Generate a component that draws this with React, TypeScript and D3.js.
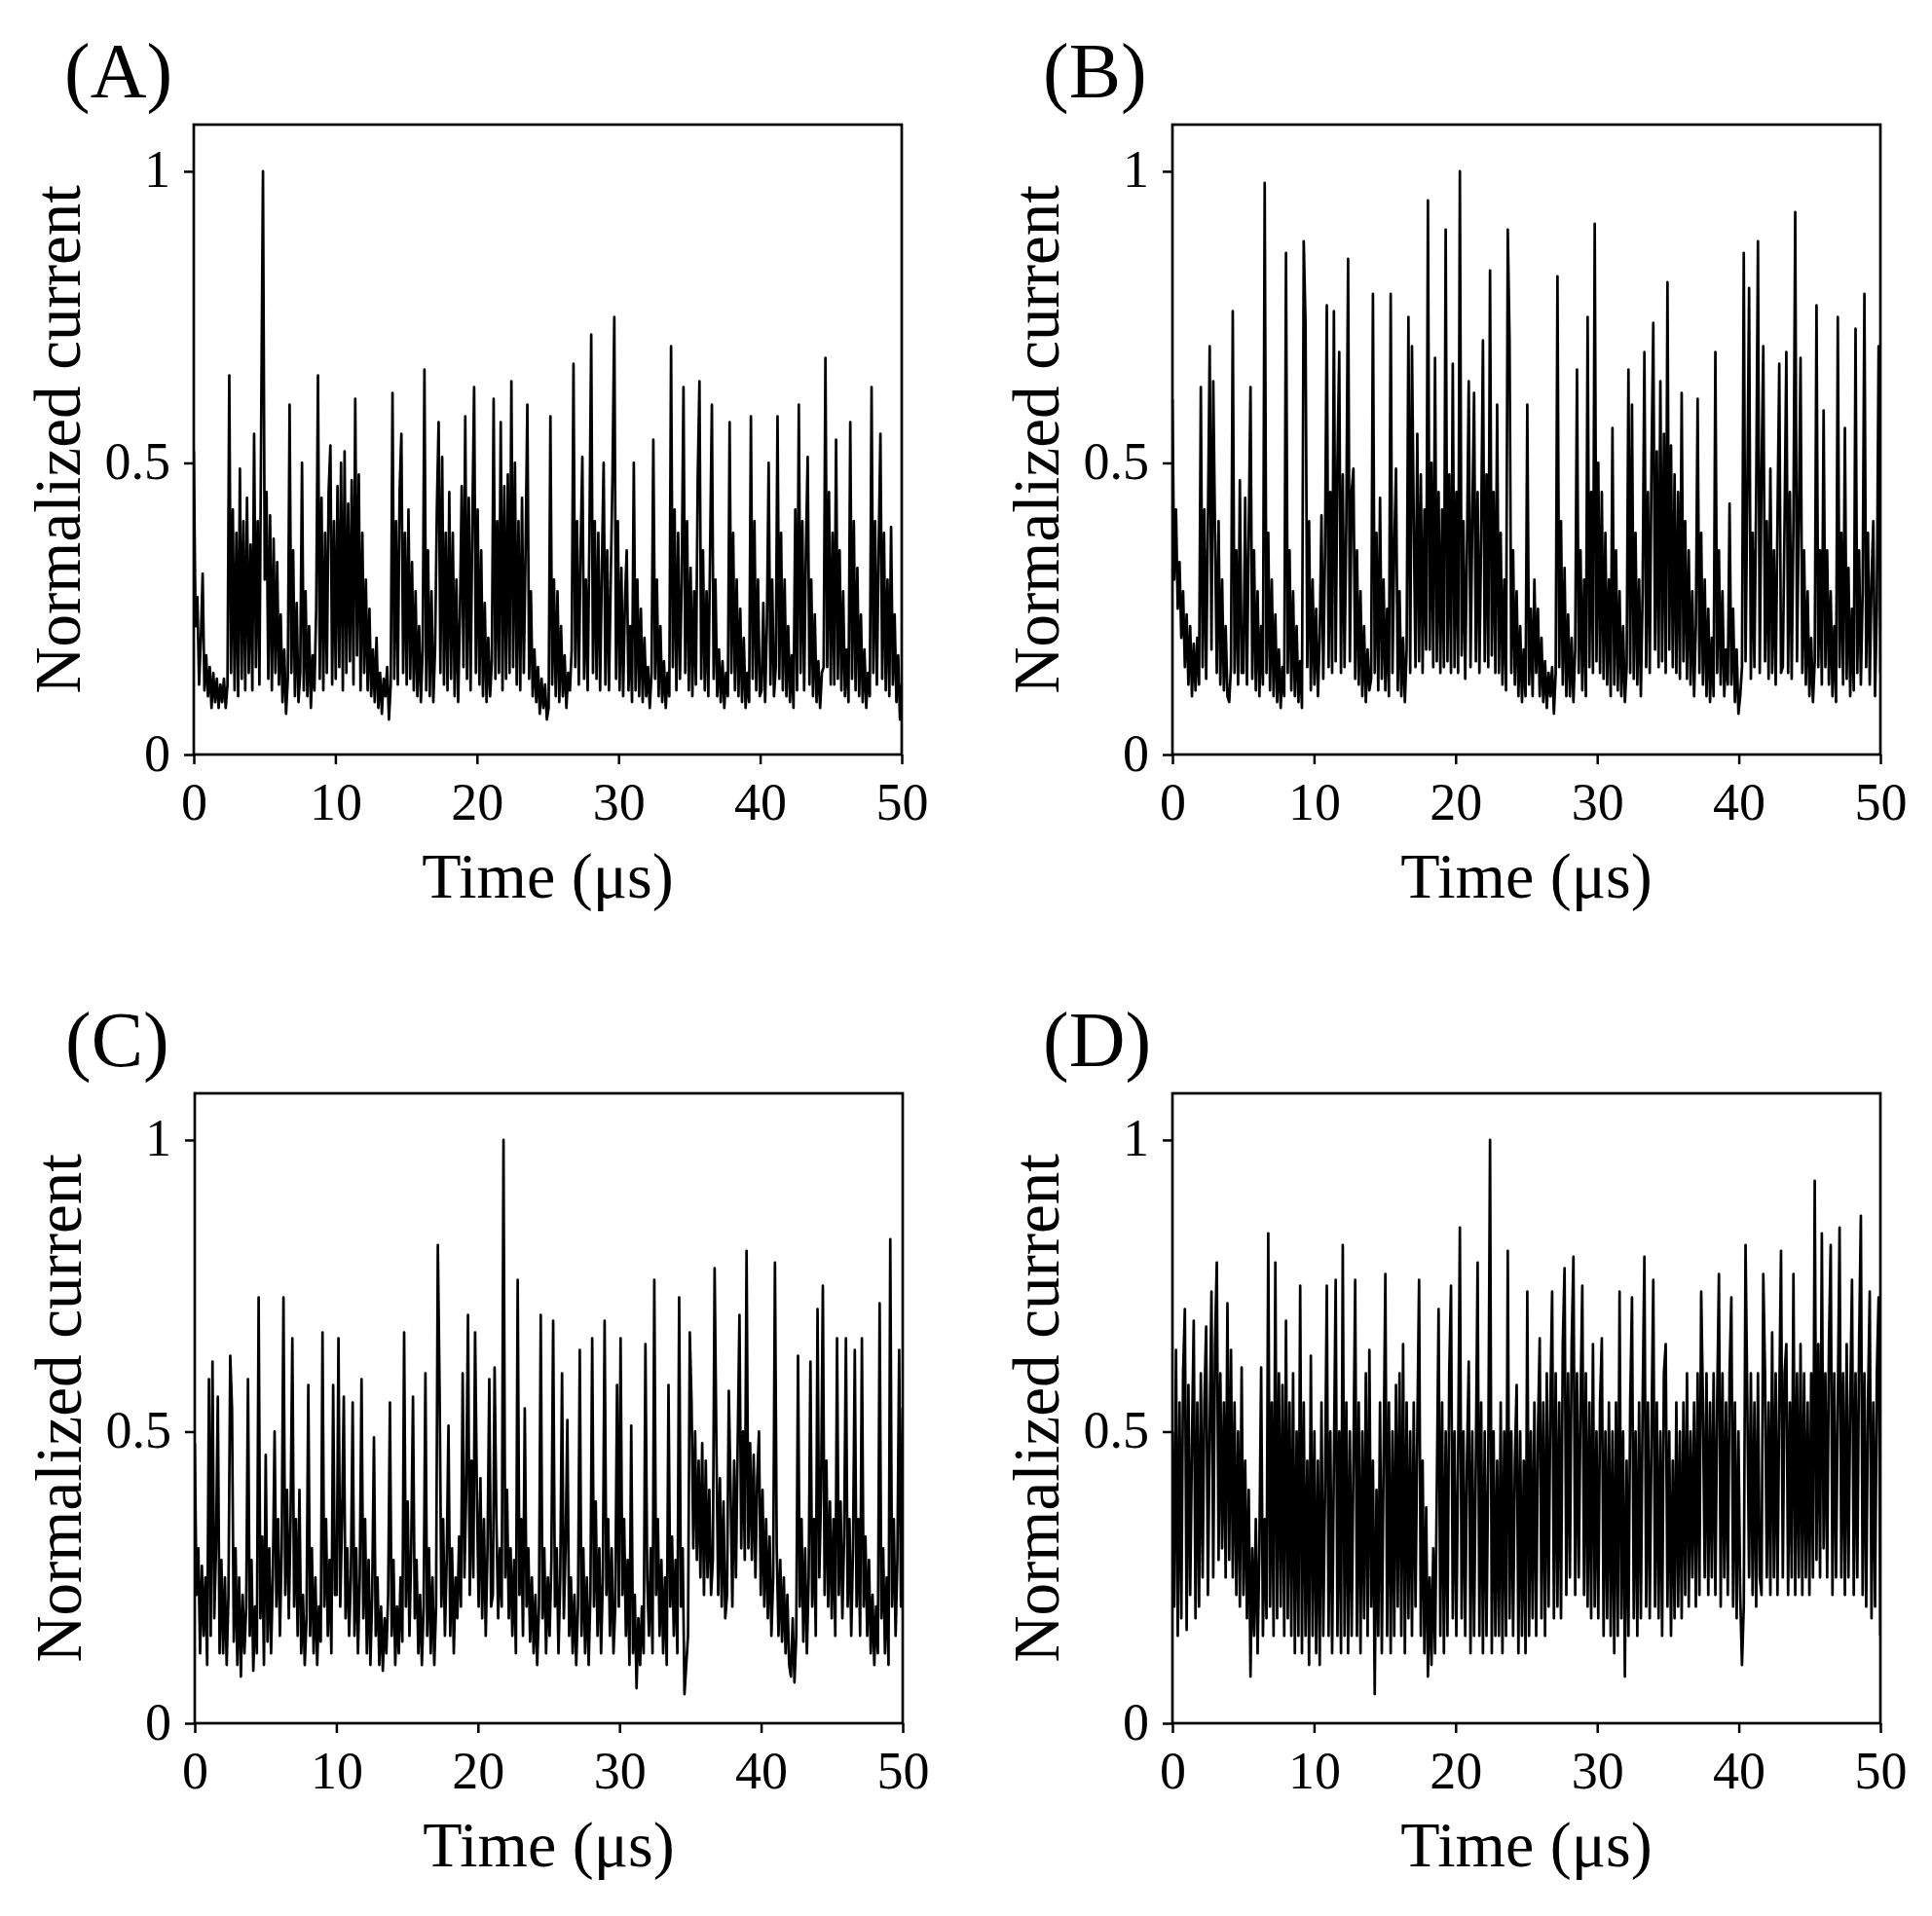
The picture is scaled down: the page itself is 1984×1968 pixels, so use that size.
import { useEffect, useRef } from 'react';
import * as d3 from 'd3';

// Axis ticks and labels
const timeTicks = [0, 10, 20, 30, 40, 50];
const currentTicks = [0, 0.5, 1];
const panelLabels = ['(A)', '(B)', '(C)', '(D)'];
const xLabel = 'Time (μs)';
const yLabel = 'Normalized current';

// Traces: normalized current in hundredths, 8 samples per µs
const traceA = [
    52, 22, 27, 12, 20, 31, 11, 17, 10, 15, 8, 14, 9, 13, 8, 12,
    9, 13, 8, 12, 65, 14, 42, 11, 38, 10, 49, 13, 40, 11, 44, 14,
    36, 11, 55, 15, 40, 12, 57, 100, 30, 45, 13, 41, 11, 37, 14, 33,
    12, 24, 9, 18, 7, 13, 60, 14, 35, 10, 26, 9, 14, 50, 11, 28,
    10, 22, 8, 17, 11, 25, 65, 13, 44, 11, 38, 14, 45, 53, 12, 40,
    13, 46, 15, 50, 11, 52, 14, 43, 16, 47, 12, 61, 17, 48, 11, 38,
    14, 30, 11, 25, 10, 18, 9, 20, 8, 14, 7, 13, 10, 15, 6, 12,
    62, 13, 40, 12, 45, 55, 14, 38, 12, 42, 13, 33, 11, 28, 10, 22,
    9, 18, 66, 11, 35, 10, 28, 9, 18, 42, 57, 14, 51, 12, 38, 11,
    45, 13, 38, 10, 30, 9, 24, 46, 15, 58, 13, 44, 11, 40, 63, 14,
    42, 12, 35, 10, 26, 9, 20, 10, 16, 61, 13, 40, 14, 57, 11, 46,
    13, 48, 14, 64, 15, 50, 12, 40, 11, 44, 14, 35, 60, 13, 28, 10,
    18, 9, 15, 7, 13, 8, 12, 6, 8, 58, 12, 30, 10, 28, 9, 22,
    10, 17, 8, 14, 11, 18, 67, 15, 40, 12, 35, 51, 13, 30, 11, 38,
    72, 14, 40, 13, 38, 11, 32, 50, 12, 35, 11, 30, 48, 75, 13, 40,
    11, 32, 10, 26, 35, 11, 22, 9, 50, 11, 30, 10, 25, 9, 20, 10,
    15, 8, 14, 54, 13, 30, 10, 22, 9, 16, 8, 14, 10, 70, 15, 42,
    11, 38, 13, 30, 63, 14, 40, 11, 32, 10, 28, 12, 47, 64, 13, 35,
    11, 28, 10, 35, 60, 13, 30, 10, 18, 9, 16, 8, 14, 10, 57, 14,
    38, 11, 30, 10, 25, 9, 20, 8, 14, 9, 58, 13, 40, 11, 30, 10,
    11, 26, 9, 22, 50, 12, 30, 10, 15, 58, 13, 38, 11, 30, 10, 22,
    9, 17, 8, 42, 11, 60, 14, 40, 11, 35, 51, 12, 30, 10, 24, 9,
    16, 8, 14, 15, 68, 15, 45, 12, 38, 12, 54, 13, 35, 11, 28, 10,
    18, 9, 57, 13, 40, 11, 32, 10, 24, 9, 18, 8, 14, 10, 63, 14,
    40, 12, 35, 55, 13, 38, 11, 30, 10, 39, 12, 24, 9, 17, 6, 12,
];

const traceB = [
    61, 30, 42, 25, 33, 20, 28, 15, 24, 12, 22, 10, 19, 11, 20, 12,
    63, 15, 42, 13, 40, 70, 18, 64, 38, 14, 40, 12, 30, 11, 22, 10,
    9, 15, 76, 14, 35, 12, 47, 14, 14, 44, 12, 38, 63, 13, 35, 11,
    28, 10, 22, 12, 98, 14, 38, 11, 30, 10, 24, 9, 18, 8, 15, 10,
    86, 14, 35, 11, 28, 10, 22, 9, 16, 8, 88, 74, 15, 40, 11, 30,
    12, 25, 10, 20, 41, 13, 35, 77, 15, 45, 14, 76, 16, 50, 69, 14,
    48, 15, 40, 85, 16, 45, 49, 13, 35, 12, 28, 10, 22, 9, 18, 11,
    13, 79, 14, 38, 11, 44, 13, 30, 11, 25, 10, 79, 14, 35, 49, 11,
    28, 10, 20, 9, 18, 75, 14, 70, 40, 15, 55, 16, 48, 14, 42, 18,
    95, 18, 50, 15, 68, 16, 45, 14, 42, 15, 90, 16, 48, 14, 67, 15,
    45, 14, 100, 17, 40, 13, 35, 64, 15, 40, 62, 16, 45, 14, 38, 71,
    16, 48, 15, 83, 17, 45, 14, 60, 14, 38, 12, 30, 11, 90, 71, 14,
    35, 12, 28, 10, 22, 9, 18, 10, 60, 12, 25, 10, 30, 14, 25, 10,
    20, 9, 16, 8, 14, 10, 15, 7, 14, 82, 15, 40, 12, 32, 10, 24,
    10, 20, 9, 18, 66, 14, 35, 11, 30, 10, 75, 15, 45, 14, 91, 16,
    50, 14, 45, 13, 38, 12, 30, 10, 56, 12, 35, 11, 28, 10, 22, 9,
    15, 66, 14, 60, 13, 38, 12, 30, 10, 28, 69, 15, 45, 14, 50, 74,
    18, 52, 15, 64, 16, 55, 14, 81, 18, 53, 15, 48, 14, 45, 13, 62,
    16, 40, 13, 35, 12, 28, 10, 22, 61, 14, 38, 12, 30, 10, 25, 9,
    20, 10, 69, 14, 35, 12, 28, 10, 18, 12, 43, 12, 25, 9, 18, 7,
    10, 15, 86, 16, 45, 80, 13, 38, 15, 45, 88, 14, 48, 70, 16, 40,
    13, 49, 14, 35, 12, 40, 67, 14, 15, 40, 69, 14, 45, 13, 40, 93,
    16, 40, 68, 14, 35, 12, 28, 10, 20, 9, 16, 77, 15, 35, 12, 59,
    15, 35, 12, 28, 10, 22, 9, 75, 15, 38, 12, 56, 13, 32, 10, 25,
    11, 73, 14, 35, 12, 28, 79, 15, 38, 12, 30, 40, 10, 25, 70, 14,
];

const traceC = [
    48, 22, 30, 12, 27, 15, 25, 10, 59, 15, 62, 18, 30, 56, 12, 28,
    12, 25, 10, 22, 63, 54, 14, 30, 10, 25, 8, 22, 12, 20, 59, 15,
    28, 9, 20, 12, 73, 18, 32, 10, 46, 14, 30, 12, 25, 50, 20, 35,
    15, 30, 73, 22, 40, 18, 35, 66, 20, 35, 15, 40, 12, 22, 10, 18,
    58, 15, 30, 12, 25, 10, 20, 14, 67, 20, 35, 15, 28, 12, 58, 22,
    22, 66, 20, 35, 56, 18, 30, 15, 25, 55, 15, 30, 12, 25, 59, 18,
    35, 12, 28, 10, 22, 49, 15, 25, 10, 20, 9, 18, 12, 22, 55, 15,
    28, 10, 20, 12, 25, 14, 67, 20, 38, 15, 30, 56, 18, 28, 12, 22,
    10, 20, 60, 15, 30, 12, 25, 10, 20, 82, 57, 20, 35, 15, 28, 51,
    15, 30, 12, 25, 18, 32, 20, 60, 25, 40, 70, 22, 45, 25, 67, 40,
    20, 42, 18, 35, 15, 30, 59, 20, 22, 61, 35, 18, 30, 20, 100, 25,
    40, 18, 30, 15, 28, 12, 76, 22, 35, 15, 54, 20, 30, 14, 25, 12,
    22, 10, 20, 70, 18, 30, 12, 25, 15, 28, 69, 20, 30, 12, 25, 60,
    18, 30, 52, 15, 25, 12, 22, 10, 20, 64, 15, 30, 12, 25, 10, 22,
    66, 20, 38, 15, 30, 12, 25, 69, 22, 35, 15, 30, 12, 20, 58, 20,
    66, 22, 35, 15, 28, 10, 51, 12, 22, 6, 18, 10, 20, 12, 65, 25,
    15, 30, 12, 76, 22, 35, 15, 28, 12, 25, 10, 58, 20, 32, 15, 28,
    12, 73, 20, 30, 5, 10, 15, 67, 55, 30, 50, 28, 45, 25, 48, 22,
    45, 25, 40, 22, 28, 78, 48, 22, 42, 20, 38, 18, 22, 57, 40, 20,
    45, 25, 48, 70, 30, 50, 28, 81, 30, 48, 28, 46, 25, 42, 50, 22,
    40, 20, 35, 18, 32, 15, 25, 79, 30, 15, 28, 14, 25, 12, 22, 10,
    8, 18, 7, 15, 63, 20, 35, 14, 30, 12, 25, 62, 20, 35, 15, 71,
    25, 40, 75, 22, 45, 20, 38, 18, 35, 15, 66, 22, 38, 18, 32, 66,
    20, 35, 15, 30, 64, 20, 35, 15, 66, 20, 32, 15, 28, 12, 22, 10,
    20, 12, 72, 18, 30, 12, 25, 10, 83, 20, 35, 15, 28, 64, 20, 54,
];

const traceD = [
    50, 20, 64, 15, 55, 18, 60, 71, 16, 58, 22, 48, 69, 18, 55, 20,
    60, 25, 55, 68, 22, 50, 74, 25, 65, 79, 28, 60, 30, 55, 25, 72,
    28, 64, 25, 55, 22, 50, 20, 61, 22, 45, 18, 40, 8, 30, 15, 35,
    12, 30, 61, 15, 35, 18, 84, 20, 55, 15, 79, 18, 60, 20, 58, 15,
    69, 18, 55, 15, 60, 12, 50, 15, 75, 12, 55, 15, 45, 10, 63, 15,
    50, 12, 45, 10, 55, 15, 40, 75, 15, 50, 12, 45, 76, 15, 50, 12,
    82, 15, 55, 12, 50, 15, 45, 76, 15, 55, 12, 50, 18, 60, 15, 64,
    20, 45, 5, 40, 15, 55, 12, 45, 77, 15, 55, 12, 50, 15, 58, 20,
    60, 15, 65, 12, 55, 18, 50, 15, 55, 20, 50, 76, 15, 45, 12, 37,
    8, 25, 10, 30, 12, 40, 71, 15, 55, 12, 50, 15, 60, 75, 18, 50,
    15, 45, 85, 18, 50, 15, 45, 62, 12, 50, 15, 45, 79, 15, 55, 12,
    50, 15, 45, 100, 12, 50, 15, 45, 15, 55, 12, 50, 15, 81, 18, 50,
    15, 45, 58, 12, 50, 15, 45, 12, 74, 15, 50, 18, 55, 15, 50, 66,
    18, 55, 15, 60, 20, 55, 74, 18, 60, 20, 55, 18, 65, 78, 22, 60,
    25, 65, 80, 22, 60, 25, 55, 75, 22, 60, 20, 55, 18, 65, 20, 50,
    18, 55, 66, 15, 50, 18, 55, 15, 50, 12, 55, 15, 74, 18, 50, 8,
    45, 15, 55, 73, 18, 50, 15, 55, 18, 55, 80, 20, 55, 18, 50, 76,
    20, 55, 18, 50, 15, 60, 65, 20, 50, 15, 45, 18, 55, 20, 50, 18,
    55, 22, 60, 20, 50, 25, 55, 20, 60, 22, 74, 55, 25, 60, 22, 55,
    25, 60, 22, 55, 77, 20, 60, 25, 55, 22, 60, 73, 20, 55, 18, 50,
    22, 10, 20, 82, 55, 25, 60, 22, 55, 20, 60, 25, 22, 77, 60, 25,
    55, 22, 67, 25, 60, 22, 55, 81, 25, 60, 65, 22, 55, 25, 77, 22,
    60, 25, 65, 22, 60, 25, 55, 22, 60, 25, 93, 28, 65, 25, 84, 30,
    60, 25, 65, 82, 22, 60, 25, 55, 85, 25, 60, 22, 65, 25, 55, 76,
    22, 60, 25, 65, 87, 22, 60, 20, 55, 74, 18, 55, 20, 60, 73, 15,
];

// Layout (pixels)
const WIDTH = 1984;
const HEIGHT = 1968;
const PANEL_W = 727;
const PANEL_H = 647;
const panelOrigins = [
    { left: 199, top: 128 },
    { left: 1204, top: 128 },
    { left: 200, top: 1123 },
    { left: 1204, top: 1123 },
];
const FONT = "'Times New Roman', 'Liberation Serif', serif";

export default function App() {
    const svgRef = useRef<SVGSVGElement>(null);

    useEffect(() => {
        if (!svgRef.current) return;
        const svg = d3.select(svgRef.current);
        svg.selectAll('*').remove();

        const traces = [traceA, traceB, traceC, traceD];

        traces.forEach((trace, k) => {
            const { left, top } = panelOrigins[k];
            const g = svg.append('g').attr('transform', `translate(${left},${top})`);

            const x = d3.scaleLinear().domain([0, 50]).range([0, PANEL_W]);
            const y = d3.scaleLinear().domain([0, 1.08]).range([PANEL_H, 0]);
            const step = 50 / (trace.length - 1);

            const clipId = `panel-clip-${k}`;
            g.append('clipPath').attr('id', clipId)
                .append('rect').attr('width', PANEL_W).attr('height', PANEL_H);

            const line = d3.line<number>()
                .x((_, i) => x(i * step))
                .y(d => y(d / 100));

            g.append('path').datum(trace)
                .attr('clip-path', `url(#${clipId})`)
                .attr('fill', 'none')
                .attr('stroke', '#000')
                .attr('stroke-width', 2.7)
                .attr('stroke-linejoin', 'round')
                .attr('d', line);

            // x axis ticks
            const xAxis = g.append('g').attr('transform', `translate(0,${PANEL_H})`)
                .call(d3.axisBottom(x).tickValues(timeTicks).tickSize(10).tickPadding(19).tickFormat(d3.format('d')));
            xAxis.select('.domain').remove();
            xAxis.selectAll('line').attr('stroke', '#000').attr('stroke-width', 2.5);
            xAxis.selectAll('text').attr('fill', '#000').attr('font-family', FONT).attr('font-size', 54);

            // y axis ticks
            const yAxis = g.append('g')
                .call(d3.axisLeft(y).tickValues(currentTicks).tickSize(10).tickPadding(14).tickFormat(d3.format('~g')));
            yAxis.select('.domain').remove();
            yAxis.selectAll('line').attr('stroke', '#000').attr('stroke-width', 2.5);
            yAxis.selectAll('text').attr('fill', '#000').attr('font-family', FONT).attr('font-size', 54).attr('dy', 16);

            // frame
            g.append('rect')
                .attr('width', PANEL_W).attr('height', PANEL_H)
                .attr('fill', 'none').attr('stroke', '#000').attr('stroke-width', 2.7);

            // axis titles
            g.append('text')
                .attr('x', PANEL_W / 2).attr('y', PANEL_H + 147)
                .attr('text-anchor', 'middle')
                .attr('font-family', FONT).attr('font-size', 66).attr('fill', '#000')
                .text(xLabel);

            g.append('text')
                .attr('transform', `translate(-117,${PANEL_H / 2}) rotate(-90)`)
                .attr('text-anchor', 'middle')
                .attr('font-family', FONT).attr('font-size', 67).attr('fill', '#000')
                .text(yLabel);

            // panel label
            g.append('text')
                .attr('x', -133).attr('y', -28)
                .attr('font-family', FONT).attr('font-size', 80).attr('fill', '#000')
                .text(panelLabels[k]);
        });
    }, []);

    return (
        <svg
            ref={svgRef}
            width={WIDTH}
            height={HEIGHT}
            style={{ position: 'absolute', left: 0, top: 0, background: '#fff', display: 'block' }}
        />
    );
}
